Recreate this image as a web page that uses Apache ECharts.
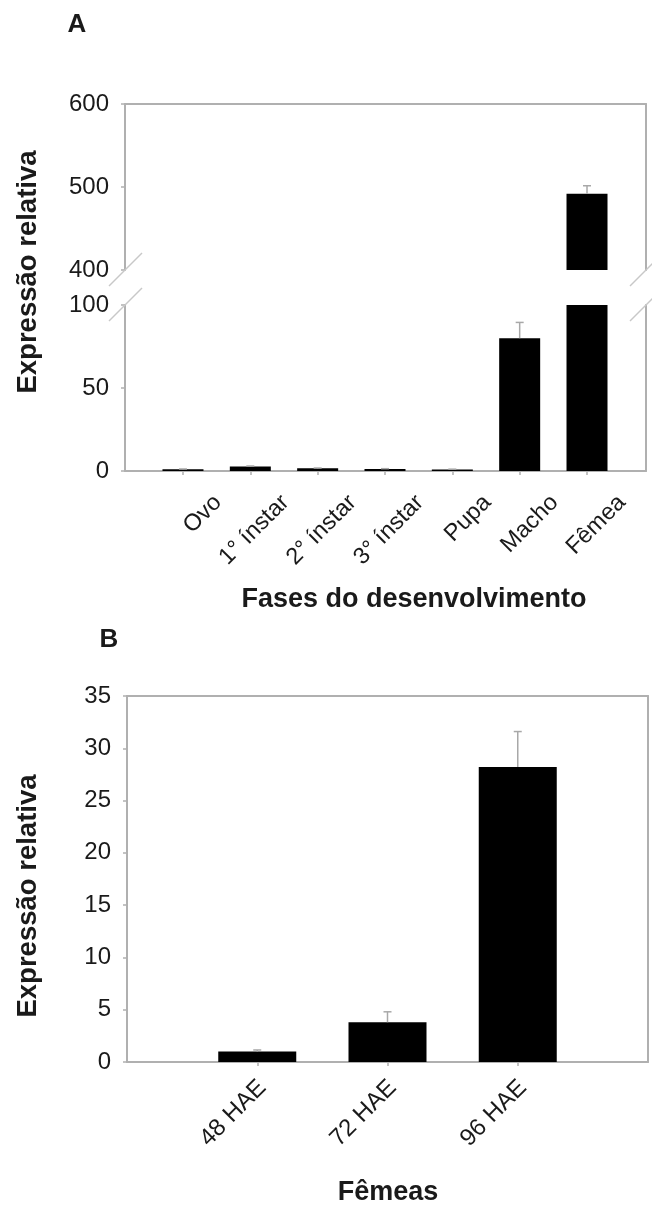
<!DOCTYPE html>
<html><head><meta charset="utf-8">
<script src="https://cdn.jsdelivr.net/npm/echarts@6.0.0/dist/echarts.min.js"></script>
<style>html,body{margin:0;padding:0;background:#fff}#c{width:652px;height:1205px}</style>
</head><body><div id="c"></div>
<script>
// ---- Panel A data ----
const catsA = ['Ovo', '1° ínstar', '2° ínstar', '3° ínstar', 'Pupa', 'Macho', 'Fêmea'];
const valsA = [1.0, 2.7, 1.6, 1.2, 0.9, 80, 492];
const errA  = [0.2, 0.3, 0.2, 0.2, 0.2, 9.5, 9.5];
const ticksAUpper = [400, 500, 600];
const ticksALower = [0, 50, 100];
// ---- Panel B data ----
const catsB = ['48 HAE', '72 HAE', '96 HAE'];
const valsB = [1.0, 3.8, 28.2];
const errB  = [0.15, 1.0, 3.4];
const ticksB = [0, 5, 10, 15, 20, 25, 30, 35];

const FONT = '"Liberation Sans", Arial, sans-serif';
const AXIS = '#b0b0b0';
const TXT = '#1a1a1a';

// layout
const A = { left: 125, right: 6, upTop: 104, upH: 166, loTop: 305, loH: 166, labelShift: 0.52 };
const B = { left: 127, right: 4, top: 696, h: 366, labelShift: 0.04 };

const idxA = catsA.map((_, i) => i);
const idxB = catsB.map((_, i) => i);
const barDataA = valsA.map((v, i) => [i, v]);
const errDataA = valsA.map((v, i) => [i, v, errA[i]]);
const barDataB = valsB.map((v, i) => [i, v]);
const errDataB = valsB.map((v, i) => [i, v, errB[i]]);

function errRender(params, api) {
  const x = api.value(0), v = api.value(1), e = api.value(2);
  const p0 = api.coord([x, v]);
  const p1 = api.coord([x, v + e]);
  const cap = 4;
  const st = { stroke: '#a8a8a8', lineWidth: 1.5 };
  return { type: 'group', children: [
    { type: 'line', shape: { x1: p0[0], y1: p0[1], x2: p1[0], y2: p1[1] }, style: st },
    { type: 'line', shape: { x1: p1[0] - cap, y1: p1[1], x2: p1[0] + cap, y2: p1[1] }, style: st }
  ]};
}

const lineStyle = { color: AXIS, width: 2 };
function yAxisLeft(grid, min, max, interval) {
  return {
    type: 'value', gridIndex: grid, min, max, interval, position: 'left',
    axisLine: { show: true, onZero: false, lineStyle },
    axisTick: { show: true, length: 4, lineStyle: { color: AXIS, width: 1.5 } },
    axisLabel: { fontFamily: FONT, fontSize: 24, color: TXT, margin: 16 },
    splitLine: { show: false }
  };
}
function yAxisRight(grid, min, max) {
  return {
    type: 'value', gridIndex: grid, min, max, position: 'right',
    axisLine: { show: true, onZero: false, lineStyle },
    axisTick: { show: false }, axisLabel: { show: false }, splitLine: { show: false }
  };
}
function xAxisBottom(grid, min, max, idx, cats, shift, size, margin) {
  return { type: 'value', gridIndex: grid, min, max, position: 'bottom',
    axisLine: { show: true, onZero: false, lineStyle },
    axisTick: { show: true, customValues: idx, length: 4, lineStyle: { color: AXIS, width: 1.5 } },
    axisLabel: { customValues: idx.map(i => i + shift), rotate: 45, margin, fontFamily: FONT, fontSize: size, color: TXT,
      formatter: v => cats[Math.round(v - shift)] },
    splitLine: { show: false } };
}
function xAxisTop(grid, min, max) {
  return { type: 'value', gridIndex: grid, min, max, position: 'top',
    axisLine: { show: true, onZero: false, lineStyle },
    axisTick: { show: false }, axisLabel: { show: false }, splitLine: { show: false } };
}

const option = {
  animation: false,
  backgroundColor: '#fff',
  grid: [
    { left: A.left, right: A.right, top: A.upTop, height: A.upH },
    { left: A.left, right: A.right, top: A.loTop, height: A.loH },
    { left: B.left, right: B.right, top: B.top, height: B.h }
  ],
  xAxis: [
    xAxisTop(0, -0.861, 6.876),
    xAxisBottom(1, -0.861, 6.876, idxA, catsA, A.labelShift, 23.5, 28),
    xAxisBottom(2, -1, 3, idxB, catsB, B.labelShift, 24, 22),
    xAxisTop(2, -1, 3)
  ],
  yAxis: [
    yAxisLeft(0, ticksAUpper[0], ticksAUpper[ticksAUpper.length - 1], ticksAUpper[1] - ticksAUpper[0]),
    yAxisRight(0, ticksAUpper[0], ticksAUpper[ticksAUpper.length - 1]),
    yAxisLeft(1, ticksALower[0], ticksALower[ticksALower.length - 1], ticksALower[1] - ticksALower[0]),
    yAxisRight(1, ticksALower[0], ticksALower[ticksALower.length - 1]),
    yAxisLeft(2, ticksB[0], ticksB[ticksB.length - 1], ticksB[1] - ticksB[0]),
    yAxisRight(2, ticksB[0], ticksB[ticksB.length - 1])
  ],
  series: [
    { type: 'bar', xAxisIndex: 0, yAxisIndex: 0, data: barDataA, barWidth: 41, clip: true,
      itemStyle: { color: '#000' } },
    { type: 'bar', xAxisIndex: 1, yAxisIndex: 2, data: barDataA, barWidth: 41, clip: true,
      itemStyle: { color: '#000' } },
    { type: 'custom', xAxisIndex: 0, yAxisIndex: 0, data: errDataA, renderItem: errRender, clip: true, z: 5 },
    { type: 'custom', xAxisIndex: 1, yAxisIndex: 2, data: errDataA, renderItem: errRender, clip: true, z: 5 },
    { type: 'bar', xAxisIndex: 2, yAxisIndex: 4, data: barDataB, barWidth: 78, clip: true,
      itemStyle: { color: '#000' } },
    { type: 'custom', xAxisIndex: 2, yAxisIndex: 4, data: errDataB, renderItem: errRender, clip: true, z: 5 }
  ],
  graphic: []
};

// break marks & texts
const W = 652;
const breakStyle = { stroke: '#c8c8c8', lineWidth: 1.5 };
const upBottom = A.upTop + A.upH, loTop = A.loTop;
const xr = W - A.right;
[A.left, xr].forEach(x => {
  [upBottom, loTop].forEach(y => {
    option.graphic.push({ type: 'line', shape: { x1: x - 16, y1: y + 16, x2: x + 17, y2: y - 17 }, style: breakStyle, z: 10 });
  });
});
const txt = (text, x, y, size, bold, rot) => ({
  type: 'text', x, y, rotation: rot || 0, z: 10,
  style: { text, fontFamily: FONT, fontSize: size, fontWeight: bold ? 'bold' : 'normal', fill: TXT,
    align: 'center', verticalAlign: 'middle' }
});
option.graphic.push(txt('A', 77, 25, 26, true));
option.graphic.push(txt('B', 109, 640, 26, true));
option.graphic.push(txt('Expressão relativa', 28, 272, 27.5, true, Math.PI / 2));
option.graphic.push(txt('Expressão relativa', 28, 896, 27.5, true, Math.PI / 2));
option.graphic.push(txt('Fases do desenvolvimento', 414, 600, 27, true));
option.graphic.push(txt('Fêmeas', 388, 1193, 27, true));

const chart = echarts.init(document.getElementById('c'), null, { renderer: 'canvas' });
chart.setOption(option);
</script>
</body></html>
